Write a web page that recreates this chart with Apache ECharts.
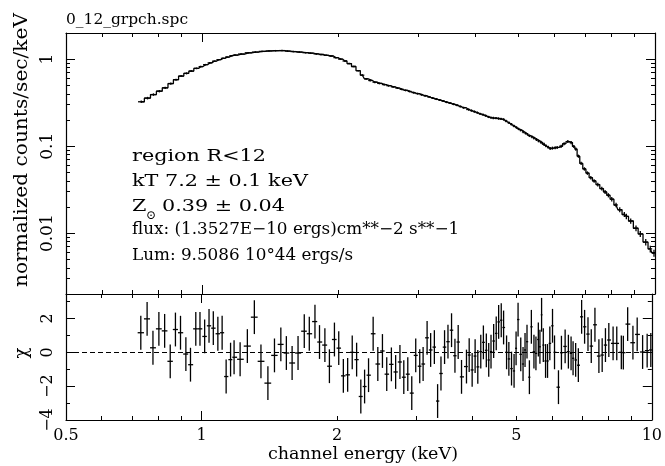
<!DOCTYPE html>
<html>
<head>
<meta charset="utf-8">
<script src="https://cdn.jsdelivr.net/npm/echarts@6/dist/echarts.min.js"></script>
<style>
html, body { margin: 0; padding: 0; background: #fff; }
#chart { width: 665px; height: 466px; }
</style>
</head>
<body>
<div id="chart"></div>
<script>
// channel centres (keV)
const energy = [
    0.733, 0.757, 0.780, 0.804, 0.828, 0.852, 0.875, 0.898, 0.923, 0.945,
    0.971, 0.992, 1.016, 1.039, 1.062, 1.087, 1.111, 1.134, 1.160, 1.181,
    1.218, 1.264, 1.310, 1.355, 1.404, 1.452, 1.500, 1.543, 1.589, 1.638,
    1.691, 1.735, 1.786, 1.828, 1.879, 1.923, 1.973, 2.017, 2.065, 2.111,
    2.161, 2.210,
    2.258, 2.302, 2.349, 2.405, 2.463, 2.522, 2.578, 2.640, 2.698, 2.758,
    2.813, 2.871, 2.930, 2.990, 3.052, 3.105, 3.169, 3.227, 3.289, 3.344,
    3.402, 3.465, 3.526, 3.591, 3.654, 3.715, 3.779,
    3.876, 3.930, 3.990, 4.051, 4.107, 4.170, 4.226, 4.290, 4.343, 4.394,
    4.454, 4.513, 4.569, 4.630, 4.686, 4.758, 4.814, 4.880, 4.944, 4.995,
    5.046, 5.116, 5.176, 5.229, 5.282, 5.347, 5.401, 5.473, 5.529, 5.597,
    5.643, 5.691, 5.741, 5.808, 5.867, 5.936, 6.018, 6.080, 6.204, 6.299,
    6.419, 6.527, 6.617, 6.685, 6.774, 6.868, 6.984, 7.091, 7.215, 7.337,
    7.476, 7.629, 7.758, 7.889, 8.026, 8.203, 8.359, 8.556, 8.644, 8.838,
    9.079, 9.279, 9.540, 9.764, 9.949
];

// normalized counts/sec/keV
const rate = [
    0.324, 0.357, 0.392, 0.429, 0.469, 0.525, 0.581, 0.640, 0.687, 0.730,
    0.784, 0.822, 0.865, 0.907, 0.948, 0.987, 1.023, 1.057, 1.095, 1.115,
    1.146, 1.185, 1.207, 1.229, 1.243, 1.252, 1.256, 1.239, 1.223, 1.207,
    1.188, 1.172, 1.151, 1.132, 1.109, 1.088, 1.042, 1.003, 0.953, 0.890,
    0.824, 0.738,
    0.655, 0.595, 0.569, 0.544, 0.527, 0.511, 0.496, 0.481, 0.466, 0.451,
    0.438, 0.426, 0.413, 0.402, 0.391, 0.380, 0.369, 0.358, 0.348, 0.340,
    0.331, 0.321, 0.313, 0.304, 0.296, 0.286, 0.277,
    0.264, 0.257, 0.250, 0.243, 0.236, 0.230, 0.224, 0.217, 0.213, 0.211,
    0.210, 0.208, 0.206, 0.203, 0.195, 0.186, 0.179, 0.171, 0.164, 0.158,
    0.153, 0.146, 0.141, 0.137, 0.132, 0.128, 0.124, 0.119, 0.115, 0.111,
    0.108, 0.105, 0.101, 0.0975, 0.0941, 0.0951, 0.0961, 0.0969, 0.100, 0.107,
    0.113, 0.110, 0.0993, 0.0926, 0.0768, 0.0634, 0.0548, 0.0491, 0.0435, 0.0399,
    0.0362, 0.0326, 0.0298, 0.0273, 0.0246, 0.0211, 0.0186, 0.0164, 0.0156, 0.0138,
    0.0114, 0.0098, 0.0079, 0.0066, 0.0059
];

// fractional 1-sigma error on rate
const rateErr = [
    0.035, 0.034, 0.033, 0.032, 0.031, 0.030, 0.029, 0.028, 0.027, 0.026,
    0.022, 0.022, 0.021, 0.021, 0.020, 0.020, 0.020, 0.020, 0.020, 0.020,
    0.020, 0.020, 0.020, 0.020, 0.020, 0.020, 0.020, 0.020, 0.020, 0.020,
    0.020, 0.020, 0.020, 0.020, 0.020, 0.020, 0.020, 0.020, 0.020, 0.020,
    0.020, 0.020,
    0.024, 0.024, 0.024, 0.025, 0.025, 0.025, 0.025, 0.025, 0.025, 0.025,
    0.025, 0.025, 0.025, 0.025, 0.026, 0.026, 0.026, 0.026, 0.026, 0.026,
    0.026, 0.027, 0.027, 0.027, 0.027, 0.028, 0.028,
    0.030, 0.030, 0.030, 0.030, 0.030, 0.030, 0.030, 0.030, 0.030, 0.030,
    0.031, 0.031, 0.031, 0.031, 0.032, 0.032, 0.032, 0.033, 0.033, 0.033,
    0.034, 0.034, 0.035, 0.035, 0.035, 0.036, 0.036, 0.036, 0.037, 0.037,
    0.040, 0.040, 0.040, 0.040, 0.040, 0.040, 0.040, 0.040, 0.040, 0.040,
    0.040, 0.040, 0.040, 0.040, 0.042, 0.044, 0.045, 0.046, 0.047, 0.048,
    0.050, 0.050, 0.055, 0.055, 0.060, 0.060, 0.065, 0.065, 0.070, 0.070,
    0.075, 0.080, 0.085, 0.090, 0.090
];

// residuals (sigma)
const chi = [
    1.16, 1.98, 0.27, 1.39, 1.27, -0.53, 1.35, 1.16, -0.10, -0.73,
    1.39, 1.39, 0.94, 1.57, 1.43, 1.10, 1.16, -1.43, -0.43, -0.29,
    -0.41, 0.37, 2.08, -0.53, -1.82, -0.18, 0.47, -0.04, -0.63, -0.04,
    1.25, 1.10, 1.82, 0.61, 0.43, -0.82, 0.76, 0.25, -1.39, -1.33,
    0.00, -0.43,
    -2.61, -2.02, -1.35, 1.10, -0.69, 0.08, -1.29, -0.71, -1.16, -0.57,
    -1.47, -1.29, -2.41, -0.18, -0.82, -0.69, 0.86, 0.14, 0.31, -2.88,
    -1.25, 0.31, 0.63, 1.31, -0.20, 0.61, -1.45,
    -0.84, -0.16, -1.04, -0.22, -0.86, 0.04, 0.59, 0.12, -0.45, 0.04,
    0.67, 1.12, 1.80, 1.90, 1.47, 0.00, -0.39, -0.96, -1.10, 0.24,
    1.94, -0.12, -0.69, 0.14, 0.63, -1.47, 1.51, 0.04, -0.06, 0.76,
    0.33, 2.22, 0.43, -0.51, -0.51, 0.53, 1.57, 0.00, -2.06, -0.02,
    0.35, 0.04, -0.06, -0.35, -0.45, -0.76, 2.10, 1.51, 1.08, 0.37,
    1.63, -0.22, -0.16, 0.43, 0.73, 0.53, 0.53, 0.00, -0.02, 1.67,
    0.57, 1.06, 0.02, 0.10, 0.14
];

const xLabelVals = [0.5, 1, 2, 5, 10];
const xMajorTicks = [1, 10];
const xMinorTicks = [0.6, 0.7, 0.8, 0.9, 2, 3, 4, 5, 6, 7, 8, 9];
const yLabelVals = [0.01, 0.1, 1];
const yMinorTicks = [0.003, 0.004, 0.005, 0.006, 0.007, 0.008, 0.009,
    0.02, 0.03, 0.04, 0.05, 0.06, 0.07, 0.08, 0.09,
    0.2, 0.3, 0.4, 0.5, 0.6, 0.7, 0.8, 0.9];
const chiLabelVals = [-4, -2, 0, 2];
const chiMinorTicks = [-3, -1, 1, 3];

const SERIF = '"DejaVu Serif", "Liberation Serif", serif';
const myChart = echarts.init(document.getElementById('chart'));

// channel edges half way (in log) to the neighbours
const edges = [];
for (var i = 0; i < energy.length; i++) {
    var lo = i > 0 ? Math.sqrt(energy[i - 1] * energy[i]) : energy[0] * Math.sqrt(energy[0] / energy[1]);
    var hi = i < energy.length - 1 ? Math.sqrt(energy[i] * energy[i + 1])
        : energy[i] * Math.sqrt(energy[i] / energy[i - 1]);
    edges.push([lo, hi]);
}

const specData = energy.map(function (e, i) {
    return [e, edges[i][0], edges[i][1], rate[i], rate[i] * (1 - rateErr[i]), rate[i] * (1 + rateErr[i])];
});
const chiData = energy.map(function (e, i) {
    return [e, edges[i][0], edges[i][1], chi[i], chi[i] - 1, chi[i] + 1];
});

function crossItem(params, api) {
    const l = api.coord([api.value(1), api.value(3)]);
    const r = api.coord([api.value(2), api.value(3)]);
    const b = api.coord([api.value(0), api.value(4)]);
    const t = api.coord([api.value(0), api.value(5)]);
    const st = { stroke: '#000', lineWidth: 1.3 };
    return {
        type: 'group',
        children: [
            { type: 'line', shape: { x1: l[0], y1: l[1], x2: r[0], y2: r[1] }, style: st },
            { type: 'line', shape: { x1: b[0], y1: b[1], x2: t[0], y2: t[1] }, style: st }
        ]
    };
}

function frameAxis(scale, grid, pos, ticks, len, showLine) {
    const a = {
        gridIndex: grid,
        position: pos,
        axisLine: { show: showLine, onZero: false, lineStyle: { color: '#000', width: 1.2 } },
        axisTick: { show: true, inside: true, length: len, customValues: ticks, lineStyle: { color: '#000', width: 1 } },
        axisLabel: { show: false },
        splitLine: { show: false },
        axisPointer: { show: false }
    };
    return Object.assign(a, scale);
}

const xScale = { type: 'log', logBase: 10, min: 0.5, max: 10 };
const yScale = { type: 'log', logBase: 10, min: 0.002, max: 2 };
const cScale = { type: 'value', min: -4, max: 3.45 };

const xAxes = [
    frameAxis(xScale, 0, 'bottom', xMajorTicks, 9, true),
    frameAxis(xScale, 0, 'bottom', xMinorTicks, 4, false),
    frameAxis(xScale, 0, 'top', xMajorTicks, 9, true),
    frameAxis(xScale, 0, 'top', xMinorTicks, 4, false),
    frameAxis(xScale, 1, 'bottom', xMajorTicks, 9, true),
    frameAxis(xScale, 1, 'bottom', xMinorTicks, 4, false),
    frameAxis(xScale, 1, 'top', xMajorTicks, 9, false),
    frameAxis(xScale, 1, 'top', xMinorTicks, 4, false)
];
xAxes[4].axisLabel = {
    show: true, customValues: xLabelVals, margin: 8,
    showMinLabel: true, showMaxLabel: true,
    color: '#000', fontFamily: SERIF, fontSize: 16,
    formatter: function (v) { return String(+v.toPrecision(3)); }
};

const yAxes = [
    frameAxis(yScale, 0, 'left', yLabelVals, 9, true),
    frameAxis(yScale, 0, 'left', yMinorTicks, 4, false),
    frameAxis(yScale, 0, 'right', yLabelVals, 9, true),
    frameAxis(yScale, 0, 'right', yMinorTicks, 4, false),
    frameAxis(cScale, 1, 'left', chiLabelVals, 9, true),
    frameAxis(cScale, 1, 'left', chiMinorTicks, 4, false),
    frameAxis(cScale, 1, 'right', chiLabelVals, 9, true),
    frameAxis(cScale, 1, 'right', chiMinorTicks, 4, false)
];
yAxes[0].axisLabel = {
    show: true, customValues: yLabelVals, margin: 10, rotate: 90,
    showMinLabel: true, showMaxLabel: true,
    color: '#000', fontFamily: SERIF, fontSize: 17,
    formatter: function (v) { return String(+v.toPrecision(3)); }
};
yAxes[4].axisLabel = {
    show: true, customValues: chiLabelVals, margin: 10, rotate: 90,
    showMinLabel: true, showMaxLabel: true,
    color: '#000', fontFamily: SERIF, fontSize: 16,
    formatter: function (v) { return v < 0 ? '\u2212' + (-v) : String(v); }
};

function txt(text, x, y, size, extra) {
    return Object.assign({
        type: 'text',
        x: x, y: y,
        style: {
            text: text, font: size + 'px ' + SERIF, fill: '#000',
            align: 'left', verticalAlign: 'middle',
            textAlign: 'left', textVerticalAlign: 'middle'
        }
    }, extra || {});
}
function centred(el) {
    el.style.align = 'center';
    el.style.textAlign = 'center';
    return el;
}

const wide = { scaleX: 1.22 };
const option = {
    backgroundColor: '#fff',
    animation: false,
    grid: [
        { left: 66, top: 33, width: 589, height: 261 },
        { left: 66, top: 294, width: 589, height: 126 }
    ],
    xAxis: xAxes,
    yAxis: yAxes,
    graphic: [
        txt('0_12_grpch.spc', 66, 20, 15, { scaleX: 1.03 }),
        txt('region R<12', 132, 157, 17, wide),
        txt('kT 7.2 \u00b1 0.1 keV', 132, 182, 17, wide),
        txt('Z', 132, 207, 17, wide),
        txt('\u2299', 146, 216, 12),
        txt('0.39 \u00b1 0.04', 162, 207, 17, wide),
        txt('flux: (1.3527E\u221210 ergs)cm**\u22122 s**\u22121', 132, 230, 16, { scaleX: 1.05 }),
        txt('Lum: 9.5086 10\u00b044 ergs/s', 132, 256, 16, { scaleX: 1.05 }),
        centred(txt('normalized counts/sec/keV', 22, 150, 19, { rotation: Math.PI / 2, scaleX: 1.06 })),
        centred(txt('\u03c7', 22, 353, 18, { rotation: Math.PI / 2 })),
        centred(txt('channel energy (keV)', 363, 455, 17, { scaleX: 1.03 }))
    ],
    series: [
        {
            name: 'model',
            type: 'line',
            xAxisIndex: 0,
            yAxisIndex: 0,
            step: 'middle',
            symbol: 'none',
            silent: true,
            lineStyle: { color: '#000', width: 1.3 },
            data: energy.map(function (e, i) { return [e, rate[i]]; }),
            z: 2
        },
        {
            name: 'data',
            type: 'custom',
            xAxisIndex: 0,
            yAxisIndex: 0,
            clip: true,
            silent: true,
            encode: { x: [0, 1, 2], y: [3, 4, 5] },
            renderItem: crossItem,
            data: specData,
            z: 3
        },
        {
            name: 'residuals',
            type: 'custom',
            xAxisIndex: 4,
            yAxisIndex: 4,
            clip: true,
            silent: true,
            encode: { x: [0, 1, 2], y: [3, 4, 5] },
            renderItem: crossItem,
            data: chiData,
            markLine: {
                silent: true,
                symbol: ['none', 'none'],
                label: { show: false },
                lineStyle: { color: '#000', width: 1, type: [5, 3] },
                data: [{ yAxis: 0 }]
            },
            z: 3
        }
    ]
};
myChart.setOption(option);
</script>
</body>
</html>
